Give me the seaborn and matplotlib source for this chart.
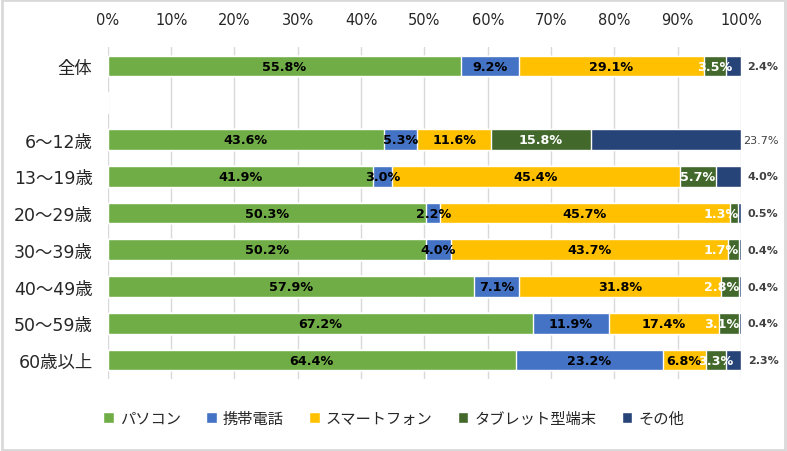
import matplotlib
matplotlib.use("Agg")
import matplotlib.pyplot as plt
import seaborn as sns
import pandas as pd
import numpy as np
from matplotlib.patches import Rectangle, Patch

categories = ["全体", " ", "6～12歳", "13～19歳", "20～29歳", "30～39歳", "40～49歳", "50～59歳", "60歳以上"]
series = ["パソコン", "携帯電話", "スマートフォン", "タブレット型端末", "その他"]
pc = [55.8, np.nan, 43.6, 41.9, 50.3, 50.2, 57.9, 67.2, 64.4]
mobile = [9.2, np.nan, 5.3, 3.0, 2.2, 4.0, 7.1, 11.9, 23.2]
smart = [29.1, np.nan, 11.6, 45.4, 45.7, 43.7, 31.8, 17.4, 6.8]
tablet = [3.5, np.nan, 15.8, 5.7, 1.3, 1.7, 2.8, 3.1, 3.3]
other = [2.4, np.nan, 23.7, 4.0, 0.5, 0.4, 0.4, 0.4, 2.3]
colors = ["#70AD47", "#4472C4", "#FFC000", "#43682B", "#264478"]
label_colors = ["black", "black", "black", "white", None]

sns.set_theme(style="white")
plt.rcParams["font.family"] = ["DejaVu Sans", "Noto Sans CJK JP"]

values = [pc, mobile, smart, tablet, other]
df = pd.DataFrame({s: v for s, v in zip(series, values)}, index=categories)
cum = df.cumsum(axis=1)

fig = plt.figure(figsize=(7.87, 4.52), dpi=100)
ax = fig.add_axes([0.137, 0.159, 0.8046, 0.735])

for i in range(len(series) - 1, -1, -1):
    s = series[i]
    d = pd.DataFrame({"cat": categories, "val": cum[s].fillna(0).values})
    sns.barplot(data=d, y="cat", x="val", order=categories, orient="h",
                color=colors[i], saturation=1, width=0.56, ax=ax, zorder=2)

ax.set_xlim(0, 100)
ax.set_ylim(8.52, -0.52)

inside = []
for i, s in enumerate(series):
    for j, c in enumerate(categories):
        v = df.loc[c, s]
        if np.isnan(v):
            continue
        if i == len(series) - 1:
            ax.text(105.9, j, f"{v:.1f}%", ha="right", va="center",
                    fontsize=8, color="#404040",
                    fontweight="normal" if v >= 10 else "bold")
        else:
            x = cum.loc[c, s] - v / 2
            t = ax.text(x, j, f"{v:.1f}%", ha="center", va="center",
                        fontsize=9.2, fontweight="bold", color=label_colors[i], zorder=5)
            inside.append(t)

ax.set_xticks(np.arange(0, 101, 10))
ax.set_xticklabels([f"{t}%" for t in range(0, 101, 10)], fontsize=10.5, color="#262626")
ax.xaxis.tick_top()
ax.tick_params(axis="x", length=0, pad=14)
ax.tick_params(axis="y", length=0, pad=11, labelsize=12.5, labelcolor="#262626")
ax.set_xlabel("")
ax.set_ylabel("")
ax.grid(axis="x", color="#D9D9D9", linewidth=1, zorder=0)
ax.set_axisbelow(True)
for sp in ax.spines.values():
    sp.set_visible(False)

# keep labels inside the plot area (as the original chart tool does)
fig.canvas.draw()
renderer = fig.canvas.get_renderer()
inv = ax.transData.inverted()
for t in inside:
    bb = t.get_window_extent(renderer)
    right = inv.transform((bb.x1, bb.y0))[0]
    if right > 99.7:
        t.set_ha("right")
        t.set_x(99.7)

handles = [Patch(facecolor=c, label=s) for c, s in zip(colors, series)]
fig.legend(handles=handles, loc="center", bbox_to_anchor=(0.5, 0.073), ncol=5,
           frameon=False, prop={"family": ["Noto Sans CJK JP"], "size": 11},
           handlelength=0.7, handleheight=0.7,
           handletextpad=0.4, columnspacing=1.65)

fig.add_artist(Rectangle((0.002, 0.003), 0.996, 0.994, transform=fig.transFigure,
                         fill=False, edgecolor="#D9D9D9", linewidth=2))
fig.savefig("out.png", dpi=100)
